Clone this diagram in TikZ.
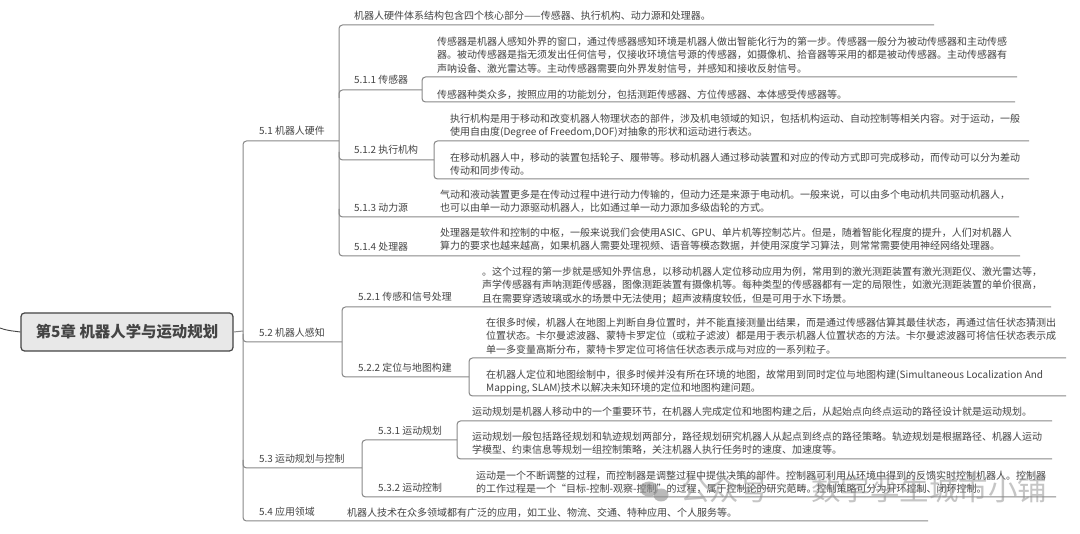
\documentclass[tikz,border=0pt]{standalone}
\usepackage{fontspec}
\setmainfont{Noto Sans CJK SC}
\definecolor{ink}{HTML}{444444}
\definecolor{rule}{HTML}{888888}
\definecolor{rootfill}{HTML}{E8E8E8}
\definecolor{rootline}{HTML}{444444}
\definecolor{wm}{HTML}{8C8C8C}
\tikzset{
  body/.style={anchor=north west,inner sep=0pt,align=left,text=ink,font=\fontsize{10}{13.75}\selectfont},
  lab/.style={anchor=west,inner sep=0pt,text=ink,font=\fontsize{9.9}{12}\selectfont},
  branch/.style={draw=rule,line width=1pt,rounded corners=3.5pt},
  rootbox/.style={draw=rootline,fill=rootfill,line width=1.2pt,rounded corners=3.5pt,minimum width=212pt,minimum height=38pt,inner sep=0pt,text=ink,font=\fontsize{15.4}{18}\selectfont\bfseries},
  mark text/.style={inner sep=0pt,anchor=west,text=wm,opacity=0.5,font=\fontsize{29.5}{32}\selectfont},
}
\begin{document}
\begin{tikzpicture}[x=1pt,y=-1pt]
\useasboundingbox (0,0) rectangle (1080,534);
\fill[white] (0,0) rectangle (1080,534);
% connector ends
\coordinate (s0) at (0,328);
\coordinate (h0) at (243,331);
\coordinate (h51) at (339,141);
\coordinate (e0) at (934,25);
\coordinate (h511) at (422,90);
\coordinate (e511a) at (1017,77);
\coordinate (e511b) at (1015,102);
\coordinate (h512) at (434,160);
\coordinate (e512a) at (1029,141);
\coordinate (e512b) at (1029,179);
\coordinate (e513) at (1019,217);
\coordinate (e514) at (1020,256);
\coordinate (h52) at (342,342);
\coordinate (e521) at (1051,307);
\coordinate (h522) at (469,377);
\coordinate (e522a) at (1066,358);
\coordinate (e522b) at (1066,396);
\coordinate (h53) at (362,468);
\coordinate (h531) at (457,440);
\coordinate (e531a) at (1052,421);
\coordinate (e531b) at (1052,459);
\coordinate (e532) at (1056,497);
\coordinate (e54) at (928,521);
% root
\node[rootbox] (root) at (127,332) {第5章 机器人学与运动规划};
\draw[rootline,line width=0.9pt] (s0) .. controls (8,331) and (14,331) .. (root.west);
\draw[branch] (root.east) -- (h0);
% main trunk
\draw[branch] (h51) -| (h0) |- (e54);
\draw[branch] ([yshift=8pt]h0 |- h52) |- (h52);
\draw[branch] ([yshift=8pt]h0 |- h53) |- (h53);
% 5.1 fan
\draw[branch] (e0) -| (h51) |- (e514);
\draw[branch] ([yshift=-8pt]h51 |- h511) |- (h511);
\draw[branch] ([yshift=8pt]h51 |- h512) |- (h512);
\draw[branch] ([yshift=8pt]h51 |- e513) |- (e513);
\draw[branch] (e511a) -| (h511) |- (e511b);
\draw[branch] (e512a) -| (h512) |- (e512b);
% 5.2 fan
\draw[branch] (e521) -| (h52) |- (h522);
\draw[branch] (e522a) -| (h522) |- (e522b);
% 5.3 fan
\draw[branch] (h531) -| (h53) |- (e532);
\draw[branch] (e531a) -| (h531) |- (e531b);
% labels
\node[lab] (n51) at (259,131) {5.1 机器人硬件};
\node[lab] (n511) at (354,80) {5.1.1 传感器};
\node[lab] (n512) at (354,150) {5.1.2 执行机构};
\node[lab] (n513) at (354,208) {5.1.3 动力源};
\node[lab] (n514) at (354,247) {5.1.4 处理器};
\node[lab] (n52) at (259,333) {5.2 机器人感知};
\node[lab] (n521) at (358,297) {5.2.1 传感和信号处理};
\node[lab] (n522) at (358,368) {5.2.2 定位与地图构建};
\node[lab] (n53) at (259,459) {5.3 运动规划与控制};
\node[lab] (n531) at (378,431) {5.3.1 运动规划};
\node[lab] (n532) at (378,488) {5.3.2 运动控制};
\node[lab] (n54) at (259,512) {5.4 应用领域};
% body text
\node[body] (t0) at (354,11) {机器人硬件体系结构包含四个核心部分——传感器、执行机构、动力源和处理器。};
\node[body] (t1) at (437,36.5) {传感器是机器人感知外界的窗口，通过传感器感知环境是机器人做出智能化行为的第一步。传感器一般分为被动传感器和主动传感\\器。被动传感器是指无须发出任何信号，仅接收环境信号源的传感器，如摄像机、拾音器等采用的都是被动传感器。主动传感器有\\声呐设备、激光雷达等。主动传感器需要向外界发射信号，并感知和接收反射信号。};
\node[body] (t2) at (437,89.5) {传感器种类众多，按照应用的功能划分，包括测距传感器、方位传感器、本体感受传感器等。};
\node[body] (t3) at (450,113.5) {执行机构是用于移动和改变机器人物理状态的部件，涉及机电领域的知识，包括机构运动、自动控制等相关内容。对于运动，一般\\使用自由度(Degree of Freedom,DOF)对抽象的形状和运动进行表达。};
\node[body] (t4) at (450,152.5) {在移动机器人中，移动的装置包括轮子、履带等。移动机器人通过移动装置和对应的传动方式即可完成移动，而传动可以分为差动\\传动和同步传动。};
\node[body] (t5) at (440,189.5) {气动和液动装置更多是在传动过程中进行动力传输的，但动力还是来源于电动机。一般来说，可以由多个电动机共同驱动机器人，\\也可以由单一动力源驱动机器人，比如通过单一动力源加多级齿轮的方式。};
\node[body] (t6) at (440,227.5) {处理器是软件和控制的中枢，一般来说我们会使用ASIC、GPU、单片机等控制芯片。但是，随着智能化程度的提升，人们对机器人\\算力的要求也越来越高，如果机器人需要处理视频、语音等模态数据，并使用深度学习算法，则常常需要使用神经网络处理器。};
\node[body] (t7) at (482,266.5) {。这个过程的第一步就是感知外界信息，以移动机器人定位移动应用为例，常用到的激光测距装置有激光测距仪、激光雷达等，\\声学传感器有声呐测距传感器，图像测距装置有摄像机等。每种类型的传感器都有一定的局限性，如激光测距装置的单价很高，\\且在需要穿透玻璃或水的场景中无法使用；超声波精度较低，但是可用于水下场景。};
\node[body] (t8) at (486,317.5) {在很多时候，机器人在地图上判断自身位置时，并不能直接测量出结果，而是通过传感器估算其最佳状态，再通过信任状态猜测出\\位置状态。卡尔曼滤波器、蒙特卡罗定位（或粒子滤波）都是用于表示机器人位置状态的方法。卡尔曼滤波器可将信任状态表示成\\单一多变量高斯分布，蒙特卡罗定位可将信任状态表示成与对应的一系列粒子。};
\node[body] (t9) at (486,369.5) {在机器人定位和地图绘制中，很多时候并没有所在环境的地图，故常用到同时定位与地图构建(Simultaneous Localization And\\Mapping, SLAM)技术以解决未知环境的定位和地图构建问题。};
\node[body] (t10) at (472,406.5) {运动规划是机器人移动中的一个重要环节，在机器人完成定位和地图构建之后，从起始点向终点运动的路径设计就是运动规划。};
\node[body] (t11) at (472,431.5) {运动规划一般包括路径规划和轨迹规划两部分，路径规划研究机器人从起点到终点的路径策略。轨迹规划是根据路径、机器人运动\\学模型、约束信息等规划一组控制策略，关注机器人执行任务时的速度、加速度等。};
\node[body] (t12) at (476,470.5) {运动是一个不断调整的过程，而控制器是调整过程中提供决策的部件。控制器可利用从环境中得到的反馈实时控制机器人。控制器\\的工作过程是一个“目标-控制-观察-控制”的过程，属于控制论的研究范畴。控制策略可分为开环控制、闭环控制。};
\node[body] (t13) at (347,507.5) {机器人技术在众多领域都有广泛的应用，如工业、物流、交通、特种应用、个人服务等。};
% watermark
\fill[wm,opacity=0.6] (649,489) ellipse (9pt and 7.5pt);
\fill[wm,opacity=0.6] (661,495) ellipse (7.5pt and 6.5pt);
\node[mark text] (mark) at (680,489) {公众号 · 数字孪生城市小铺};
\end{tikzpicture}
\end{document}
